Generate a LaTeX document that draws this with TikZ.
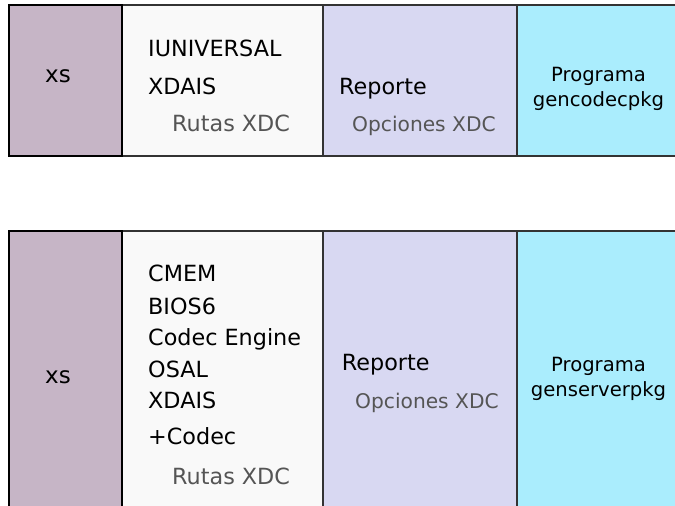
\documentclass[tikz,border=0pt]{standalone}
\usepackage{fontspec}
\setmainfont{DejaVu Sans}
\definecolor{mauve}{HTML}{C6B5C6}
\definecolor{paper}{HTML}{F9F9F9}
\definecolor{lav}{HTML}{D8D8F2}
\definecolor{cyanb}{HTML}{AAEDFD}
\definecolor{edge}{HTML}{333333}
\definecolor{graytxt}{HTML}{555555}
\tikzset{
  colbox/.style={draw=edge, line width=1.5pt},
  xsbox/.style={draw=black, line width=2pt, fill=mauve},
  main/.style={anchor=base west, inner sep=0pt, font=\fontsize{22.3}{24}\selectfont},
  rutas/.style={anchor=base west, inner sep=0pt, text=graytxt, font=\fontsize{22.3}{24}\selectfont},
  opc/.style={anchor=base west, inner sep=0pt, text=graytxt, font=\fontsize{20.2}{24}\selectfont},
  prog/.style={anchor=base, inner sep=0pt, font=\fontsize{19.6}{22}\selectfont},
  xslabel/.style={anchor=base, inner sep=0pt, font=\fontsize{23}{24}\selectfont},
}
\begin{document}
\begin{tikzpicture}[x=1pt,y=-1pt]
\useasboundingbox (0,0) rectangle (675,506);
\clip (0,0) rectangle (675,506);
% top row
\path[fill=cyanb] (517,5) rectangle (690,156);
\path[fill=lav] (323,5) rectangle (517,156);
\path[fill=paper] (122,5) rectangle (323,156);
\draw[colbox] (690,5) -- (122,5) -- (122,156) -- (690,156);
\draw[colbox] (323,5) -- (323,156);
\draw[colbox] (517,5) -- (517,156);
\draw[xsbox] (9,5) rectangle (122,156);
% bottom row
\path[fill=cyanb] (517,231) rectangle (690,520);
\path[fill=lav] (323,231) rectangle (517,520);
\path[fill=paper] (122,231) rectangle (323,520);
\draw[colbox] (690,231) -- (122,231) -- (122,520);
\draw[colbox] (323,231) -- (323,520);
\draw[colbox] (517,231) -- (517,520);
\draw[xsbox] (122,520) -- (9,520) -- (9,231) -- (122,231) -- (122,520);
% top texts
\node[xslabel] (xsA) at (58,82) {xs};
\node[main] (iu) at (148,56) {IUNIVERSAL};
\node[main] (xdA) at (148,94) {XDAIS};
\node[rutas] (rutA) at (172,131) {Rutas XDC};
\node[main] (repA) at (339,94) {Reporte};
\node[opc] (opA) at (352,131.5) {Opciones XDC};
\node[prog] (prA) at (598.5,81) {Programa};
\node[prog] (gcA) at (598.5,106) {gencodecpkg};
% bottom texts
\node[xslabel] (xsB) at (58,383.3) {xs};
\node[main] (cmem) at (148,281.7) {CMEM};
\node[main] (bios) at (148,314) {BIOS6};
\node[main] (ce) at (148,345.7) {Codec Engine};
\node[main] (osal) at (148,377.3) {OSAL};
\node[main] (xdB) at (148,408.7) {XDAIS};
\node[main] (pc) at (148,444) {+Codec};
\node[rutas] (rutB) at (172,484) {Rutas XDC};
\node[main] (repB) at (341.7,370) {Reporte};
\node[opc] (opB) at (355,408.3) {Opciones XDC};
\node[prog] (prB) at (598.5,371) {Programa};
\node[prog] (gsB) at (598.5,396) {genserverpkg};
\end{tikzpicture}
\end{document}
